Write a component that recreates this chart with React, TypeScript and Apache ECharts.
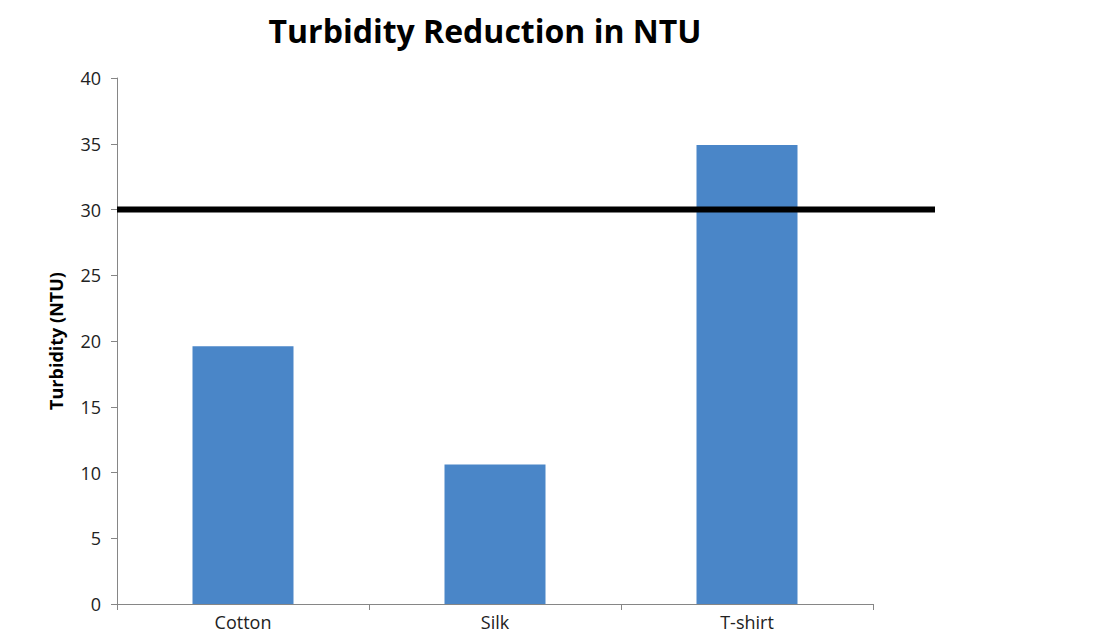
import React, { useEffect, useRef } from "react";
import * as echarts from "echarts";

const categories = ["Cotton", "Silk", "T-shirt"];
const turbidity = [19.6, 10.6, 34.9];
const thresholdValue = [30];
const yTicks = { min: 0, max: 40, interval: 5 };

export default function App() {
  const ref = useRef<HTMLDivElement>(null);
  useEffect(() => {
    if (!ref.current) return;
    const chart = echarts.init(ref.current, null, { renderer: "svg" });
    const font = "'Open Sans', 'Liberation Sans', sans-serif";
    chart.setOption({
      animation: false,
      backgroundColor: "#ffffff",
      title: {
        text: "Turbidity Reduction in NTU",
        left: 480,
        top: 9,
        textAlign: "center",
        textStyle: { fontFamily: font, fontWeight: "bold", fontSize: 32, color: "#000" },
      },
      grid: [
        { left: 117, top: 78, width: 756, height: 526 },
        { left: 117, top: 78, width: 818, height: 526 },
      ],
      xAxis: [
        {
          type: "category",
          gridIndex: 0,
          data: categories,
          axisLine: { lineStyle: { color: "#868686", width: 1 } },
          axisTick: { show: true, length: 6, alignWithLabel: false, lineStyle: { color: "#868686" } },
          axisLabel: { fontFamily: font, fontSize: 18, color: "#222", margin: 9 },
        },
        {
          type: "value",
          gridIndex: 1,
          min: 0,
          max: 1,
          show: false,
        },
      ],
      yAxis: [
        {
          type: "value",
          gridIndex: 0,
          min: yTicks.min,
          max: yTicks.max,
          interval: yTicks.interval,
          name: "Turbidity (NTU)",
          nameLocation: "middle",
          nameRotate: 90,
          nameGap: 52,
          nameTextStyle: { fontFamily: font, fontWeight: "bold", fontSize: 18, color: "#000" },
          axisLine: { show: true, lineStyle: { color: "#868686", width: 1 } },
          axisTick: { show: true, length: 6, lineStyle: { color: "#868686" } },
          splitLine: { show: false },
          axisLabel: { fontFamily: font, fontSize: 18, color: "#222", margin: 16 },
        },
        {
          type: "value",
          gridIndex: 1,
          min: yTicks.min,
          max: yTicks.max,
          show: false,
        },
      ],
      series: [
        {
          type: "bar",
          xAxisIndex: 0,
          yAxisIndex: 0,
          data: turbidity,
          barWidth: 101,
          itemStyle: { color: "#4a86c8" },
        },
        {
          type: "line",
          xAxisIndex: 1,
          yAxisIndex: 1,
          clip: false,
          symbol: "none",
          data: [
            [0, thresholdValue[0]],
            [1, thresholdValue[0]],
          ],
          lineStyle: { color: "#000", width: 6 },
        },
      ],
    });
    return () => chart.dispose();
  }, []);
  return (
    <div
      ref={ref}
      style={{ position: "fixed", left: 0, top: 0, width: 1107, height: 635 }}
    />
  );
}
